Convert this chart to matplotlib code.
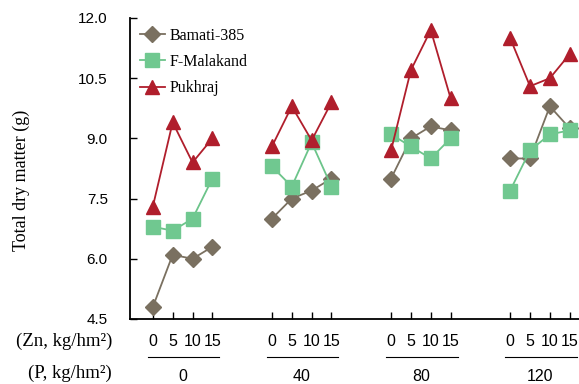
import numpy as np
import matplotlib
matplotlib.use('Agg')
import matplotlib.pyplot as plt
import matplotlib.transforms as mtransforms

# P levels (groups) and Zn levels within each group
p_levels = ['0', '40', '80', '120']
zn_levels = ['0', '5', '10', '15']

# Total dry matter (g), one row per P level, one column per Zn level
bamati = [[4.8, 6.1, 6.0, 6.3],
          [7.0, 7.5, 7.7, 8.0],
          [8.0, 9.0, 9.3, 9.2],
          [8.5, 8.5, 9.8, 9.25]]
malakand = [[6.8, 6.7, 7.0, 8.0],
            [8.3, 7.8, 8.9, 7.8],
            [9.1, 8.8, 8.5, 9.0],
            [7.7, 8.7, 9.1, 9.2]]
pukhraj = [[7.3, 9.4, 8.4, 9.0],
           [8.8, 9.8, 8.95, 9.9],
           [8.7, 10.7, 11.7, 10.0],
           [11.5, 10.3, 10.5, 11.1]]

series = [
    ('Bamati-385', bamati, '#7a7060', '#7a7060', 'D', 8.5),
    ('F-Malakand', malakand, '#6cc48a', '#70c890', 's', 10),
    ('Pukhraj', pukhraj, '#b01e2c', '#b01e2c', '^', 10),
]

serif = 'Liberation Serif'
sans = 'Liberation Sans'

fig = plt.figure(figsize=(5.79, 3.84), dpi=100)
ax = fig.add_axes([130 / 579, 1 - 319 / 384, 0.78, (319 - 18) / 384])

step = 6
for name, data, lc, mc, mk, ms in series:
    for g in range(len(p_levels)):
        x = g * step + np.arange(len(zn_levels))
        ax.plot(x, data[g], color=lc, lw=1.3, marker=mk, markersize=ms,
                markerfacecolor=mc, markeredgecolor=mc,
                label=name if g == 0 else None)

ax.set_xlim(-1.15, 21.6)
ax.set_ylim(4.5, 12.0)
ax.set_yticks(np.arange(4.5, 12.01, 1.5))
ax.set_yticklabels(['%.1f' % v for v in np.arange(4.5, 12.01, 1.5)],
                   fontsize=11, fontfamily=sans)

xt = [g * step + i for g in range(len(p_levels)) for i in range(len(zn_levels))]
ax.set_xticks(xt)
ax.set_xticklabels(zn_levels * len(p_levels), fontsize=11.5, fontfamily=sans)
ax.tick_params(direction='in', length=5, width=1)
ax.tick_params(axis='x', pad=11)
ax.tick_params(axis='y', pad=16)

ax.spines['top'].set_visible(False)
ax.spines['right'].set_visible(False)
ax.spines['left'].set_linewidth(1.3)
ax.spines['bottom'].set_linewidth(1.3)

ax.set_ylabel('Total dry matter (g)', fontsize=13, fontfamily=serif)
ax.yaxis.set_label_coords(-0.222, 0.46)

# group underlines and P labels
trans = mtransforms.blended_transform_factory(ax.transData, ax.transAxes)
for g, p in enumerate(p_levels):
    x0 = g * step
    ax.plot([x0 - 0.25, x0 + 3.35], [-0.127, -0.127], color='black', lw=0.8,
            transform=trans, clip_on=False)
    ax.text(x0 + 1.5, -0.19, p, transform=trans, ha='center', va='center',
            fontsize=11.5, fontfamily=sans)

fig.text(112 / 579, 1 - 341 / 384, '(Zn, kg/hm²)', ha='right', va='center',
         fontsize=13.5, fontfamily=serif)
fig.text(112 / 579, 1 - 373 / 384, '(P, kg/hm²)', ha='right', va='center',
         fontsize=13.5, fontfamily=serif)

leg = ax.legend(loc='upper left', frameon=False, prop={'family': serif, 'size': 11.5},
                handlelength=1.6, handletextpad=0.3, labelspacing=0.65,
                borderaxespad=0.2, bbox_to_anchor=(0.0, 1.0))

fig.savefig('out.png', dpi=100)
